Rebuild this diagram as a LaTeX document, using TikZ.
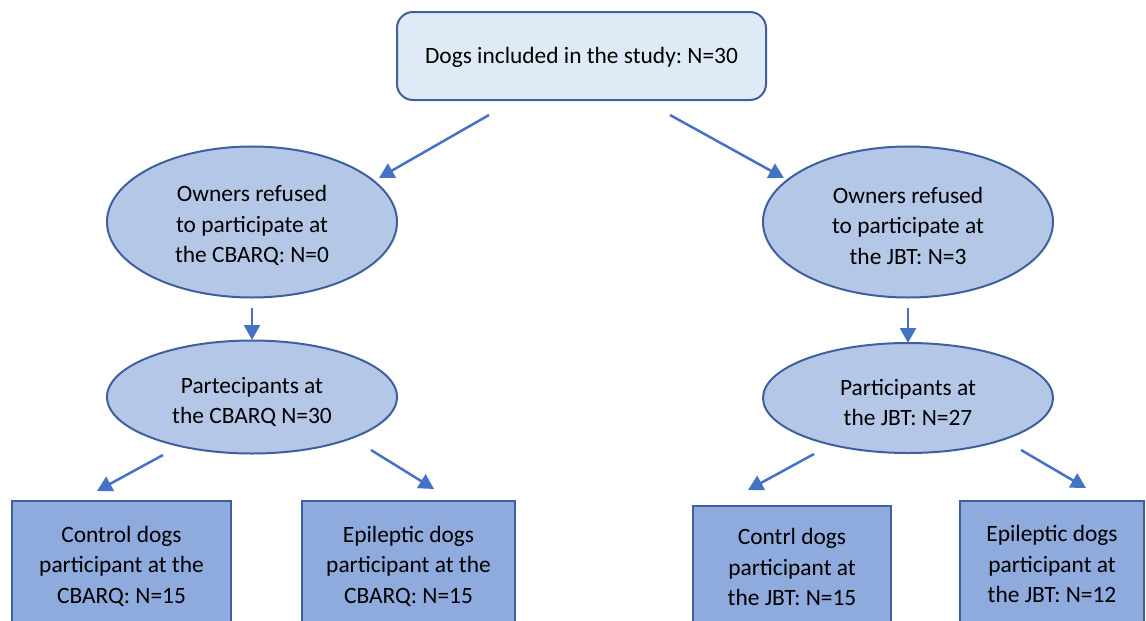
\documentclass[tikz,border=0pt]{standalone}
\usepackage{fontspec}
\setmainfont{Carlito}
\frenchspacing
\usetikzlibrary{shapes.geometric,arrows.meta}
\definecolor{bordc}{HTML}{3F5F9E}
\definecolor{topfill}{HTML}{DEEBF7}
\definecolor{ellfill}{HTML}{B4C7E7}
\definecolor{boxfill}{HTML}{8FAADC}
\definecolor{arrc}{HTML}{4472C4}
\tikzset{
  txt/.style={font=\fontsize{23.4pt}{30.5pt}\selectfont\frenchspacing, align=center, text=black, inner sep=0pt},
  topbox/.style={txt, draw=bordc, line width=2pt, fill=topfill, rounded corners=16pt, inner sep=0pt},
  ellnode/.style={txt, ellipse, draw=bordc, line width=2pt, fill=ellfill, inner sep=0pt},
  leafbox/.style={txt, draw=bordc, line width=2pt, fill=boxfill, inner sep=0pt},
  conn/.style={draw=arrc, line width=2.5pt, -{Triangle[length=15pt,width=16pt]}},
  intext/.style 2 args={label={[txt, yshift=-#1pt]center:{#2}}},
}
\begin{document}
\begin{tikzpicture}[x=1pt,y=-1pt]
\useasboundingbox (0,0) rectangle (1146,621);
\node[topbox, minimum width=369pt, minimum height=88pt, intext={1}{Dogs included in the study: N=30}] (top) at (581.5,56) {};
\node[ellnode, minimum width=290pt, minimum height=151pt, intext={3.5}{Owners refused\\to participate at\\the CBARQ: N=0}] (refL) at (252,222) {};
\node[ellnode, minimum width=290pt, minimum height=151pt, intext={3.5}{Owners refused\\to participate at\\the JBT: N=3}] (refR) at (908,222) {};
\node[ellnode, minimum width=290pt, minimum height=113pt, intext={5}{Partecipants at\\the CBARQ N=30}] (parL) at (252,397) {};
\node[ellnode, minimum width=290pt, minimum height=110pt, intext={4.5}{Participants at\\the JBT: N=27}] (parR) at (908,398) {};
\node[leafbox, minimum width=219pt, minimum height=126pt, intext={2}{Control dogs\\participant at the\\CBARQ: N=15}] (cL) at (121.5,564) {};
\node[leafbox, minimum width=213pt, minimum height=126pt, intext={2}{Epileptic dogs\\participant at the\\CBARQ: N=15}] (eL) at (408.5,564) {};
\node[leafbox, minimum width=198pt, minimum height=120pt, intext={1}{Contrl dogs\\participant at\\the JBT: N=15}] (cR) at (792,566) {};
\node[leafbox, minimum width=184pt, minimum height=126pt, intext={0}{Epileptic dogs\\participant at\\the JBT: N=12}] (eR) at (1052,564) {};
% arrow end coordinates
\coordinate (a1s) at (489,115); \coordinate (a1e) at (379,178);
\coordinate (a2s) at (670,115); \coordinate (a2e) at (784,178);
\coordinate (a3s) at (252,308); \coordinate (a3e) at (252,340);
\coordinate (a4s) at (908,308); \coordinate (a4e) at (908,343);
\coordinate (a5s) at (163,455); \coordinate (a5e) at (97,491);
\coordinate (a6s) at (371,450); \coordinate (a6e) at (434,489);
\coordinate (a7s) at (814,454); \coordinate (a7e) at (748,490);
\coordinate (a8s) at (1021,450); \coordinate (a8e) at (1086,488);
\draw[conn] (a1s) -- (a1e);
\draw[conn] (a2s) -- (a2e);
\draw[conn] (a3s) -- (a3e);
\draw[conn] (a4s) -- (a4e);
\draw[conn] (a5s) -- (a5e);
\draw[conn] (a6s) -- (a6e);
\draw[conn] (a7s) -- (a7e);
\draw[conn] (a8s) -- (a8e);
\end{tikzpicture}
\end{document}
